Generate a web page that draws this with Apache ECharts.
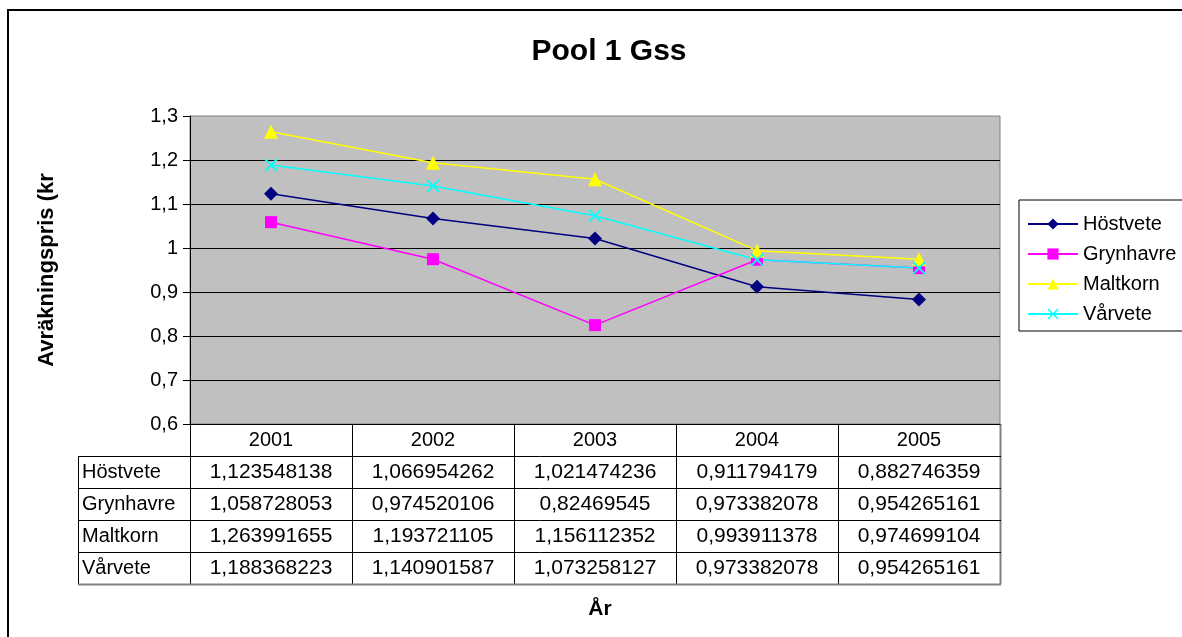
<!DOCTYPE html>
<html>
<head>
<meta charset="utf-8">
<script src="https://cdn.jsdelivr.net/npm/echarts@6/dist/echarts.min.js"></script>
<style>
  html, body { margin: 0; padding: 0; background: #fff; }
  #main { width: 1182px; height: 637px; }
</style>
</head>
<body>
<div id="main"></div>
<script>
const years = ['2001', '2002', '2003', '2004', '2005'];
const seriesNames = ['Höstvete', 'Grynhavre', 'Maltkorn', 'Vårvete'];
const hostvete = [1.123548138, 1.066954262, 1.021474236, 0.911794179, 0.882746359];
const grynhavre = [1.058728053, 0.974520106, 0.82469545, 0.973382078, 0.954265161];
const maltkorn = [1.263991655, 1.193721105, 1.156112352, 0.993911378, 0.974699104];
const varvete = [1.188368223, 1.140901587, 1.073258127, 0.973382078, 0.954265161];
const allValues = [hostvete, grynhavre, maltkorn, varvete];

const colors = ['#000080', '#ff00ff', '#ffff00', '#00ffff'];
const crossPath = 'path://M0,1 L1,0 L5,4 L9,0 L10,1 L6,5 L10,9 L9,10 L5,6 L1,10 L0,9 L4,5 Z';
const symbols = ['diamond', 'rect', 'triangle', crossPath];
const symbolSizes = [14, 12, 14, 13];

const font = 'Liberation Sans, Arial, sans-serif';
const rowH = 32;
const comma = v => String(v).replace('.', ',');

const chart = echarts.init(document.getElementById('main'), null, { renderer: 'canvas' });

// extra x axes only carry the table rows below the plot
const tableAxes = allValues.map((vals, k) => ({
  type: 'category',
  data: years,
  position: 'bottom',
  offset: rowH * (k + 1),
  axisLine: { show: false },
  axisTick: { show: false },
  axisLabel: {
    margin: 6, color: '#000', fontFamily: font, fontSize: 21,
    formatter: (v, i) => comma(vals[i])
  }
}));

const option = {
  animation: false,
  title: [
    {
      text: 'Pool 1 Gss', left: 604, top: 32, textAlign: 'center',
      textStyle: { fontFamily: font, fontSize: 30, fontWeight: 'bold', color: '#000' }
    },
    {
      text: 'År', left: 595, top: 594, textAlign: 'center',
      textStyle: { fontFamily: font, fontSize: 21, fontWeight: 'bold', color: '#000' }
    }
  ],
  legend: {
    orient: 'vertical',
    left: 1019,
    top: 200,
    padding: [14, 30, 7, 8],
    itemWidth: 50,
    itemHeight: 14,
    itemGap: 10,
    borderColor: '#000',
    borderWidth: 1,
    textStyle: { fontFamily: font, fontSize: 20, color: '#000' },
    data: seriesNames
  },
  grid: {
    left: 190, top: 116, right: 182, height: 308,
    show: true, backgroundColor: '#c0c0c0', borderColor: '#808080', borderWidth: 1
  },
  xAxis: [
    {
      type: 'category',
      data: years,
      boundaryGap: true,
      axisLine: { lineStyle: { color: '#000', width: 1 } },
      axisTick: { show: false },
      axisLabel: { margin: 6, color: '#000', fontFamily: font, fontSize: 20 }
    },
    ...tableAxes
  ],
  yAxis: {
    type: 'value',
    min: 0.6, max: 1.3, interval: 0.1,
    name: 'Avräkningspris (kr',
    nameLocation: 'middle',
    nameGap: 132,
    nameTextStyle: { fontFamily: font, fontSize: 22, fontWeight: 'bold', color: '#000' },
    axisLine: { show: true, lineStyle: { color: '#000', width: 1 } },
    axisTick: { show: true, length: 7, lineStyle: { color: '#000' } },
    axisLabel: {
      margin: 12, color: '#000', fontFamily: font, fontSize: 20,
      formatter: v => comma(Number(v.toFixed(1)))
    },
    splitLine: { show: true, showMaxLine: false, showMinLine: false, lineStyle: { color: '#000', width: 1 } }
  },
  series: allValues.map((vals, k) => ({
    name: seriesNames[k],
    type: 'line',
    data: vals,
    symbol: symbols[k],
    symbolSize: symbolSizes[k],
    showAllSymbol: true,
    lineStyle: { color: colors[k], width: 1.5 },
    itemStyle: { color: colors[k] }
  }))
};

chart.setOption(option);

// table grid lines from the axis scales
const px = i => chart.convertToPixel({ xAxisIndex: 0 }, years[i]);
const band = px(1) - px(0);
const xLeft = px(0) - band / 2;
const xRight = px(years.length - 1) + band / 2;
const y0 = chart.convertToPixel({ yAxisIndex: 0 }, 0.6);
const nRows = allValues.length + 1;
const yBottom = y0 + nRows * rowH;
const labelLeft = 78;

const graphics = [];
// outer chart frame
graphics.push({
  type: 'rect', silent: true, z: -10,
  shape: { x: 8, y: 10, width: 1300, height: 800 },
  style: { fill: null, stroke: '#000', lineWidth: 2 }
});
for (let b = 0; b <= years.length; b++) {
  const x = Math.round(xLeft + b * band) + 0.5;
  graphics.push({
    type: 'line', silent: true,
    shape: { x1: x, y1: y0, x2: x, y2: yBottom },
    style: { stroke: b === years.length ? '#808080' : '#000', lineWidth: b === years.length ? 2 : 1 }
  });
}
graphics.push({
  type: 'line', silent: true,
  shape: { x1: labelLeft + 0.5, y1: y0 + rowH, x2: labelLeft + 0.5, y2: yBottom },
  style: { stroke: '#000', lineWidth: 1 }
});
for (let r = 1; r <= nRows; r++) {
  const y = Math.round(y0 + r * rowH) + 0.5;
  graphics.push({
    type: 'line', silent: true,
    shape: { x1: labelLeft, y1: y, x2: xRight + 1, y2: y },
    style: { stroke: r === nRows ? '#808080' : '#000', lineWidth: r === nRows ? 2 : 1 }
  });
}
seriesNames.forEach((name, k) => {
  graphics.push({
    type: 'text', silent: true,
    x: labelLeft + 4, y: y0 + (k + 1.5) * rowH,
    style: { text: name, fontFamily: font, fontSize: 20, fill: '#000', verticalAlign: 'middle', align: 'left' }
  });
});

chart.setOption({ graphic: graphics });
</script>
</body>
</html>
